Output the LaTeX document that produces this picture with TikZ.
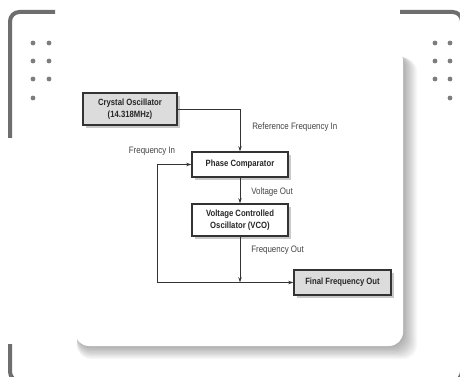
\documentclass[tikz,border=0pt]{standalone}
\usepackage{fontspec}
\setmainfont{Liberation Sans}[FakeStretch=0.85]
\usepackage{xcolor}
\usetikzlibrary{arrows.meta,shadows}

\definecolor{framegray}{HTML}{6E6E6E}
\definecolor{boxgray}{HTML}{DCDCDC}
\definecolor{wiregray}{HTML}{333333}
\definecolor{labelgray}{HTML}{444444}

\begin{document}
\begin{tikzpicture}[x=0.75pt, y=-0.75pt,
    bracket/.style={draw=framegray, line width=3pt, rounded corners=7pt},
    dot/.style={fill=framegray!90},
    block/.style={draw=wiregray, line width=0.8pt, fill=white, align=center,
      text=black!85, font=\bfseries\fontsize{6.8}{8.5}\selectfont,
      drop shadow={shadow xshift=2pt, shadow yshift=-2pt, opacity=0.35, fill=black!60}},
    greyblock/.style={block, fill=boxgray},
    lbl/.style={text=labelgray, font=\fontsize{7}{8.5}\selectfont, inner sep=0pt},
    wire/.style={draw=wiregray, line width=0.7pt, -{Stealth[length=4pt,width=2.6pt]}}]
        \useasboundingbox (0,0) rectangle (460,377);
        % Frame
        \draw[bracket] (10,138) |- (55,12);
        \draw[bracket] (400,12) -| (462,40);
        \draw[bracket] (10,344) |- (60,381);
        \draw[bracket] (462,350) |- (420,381);
        % Dots
        \foreach \y in {43,61,79} {
          \fill[dot] (33,\y) circle (2.4);
          \fill[dot] (49,\y) circle (2.4);
          \fill[dot] (435,\y) circle (2.4);
          \fill[dot] (450,\y) circle (2.4);
        }
        \fill[dot] (33,98) circle (2.4);
        \fill[dot] (450,98) circle (2.4);
        % Card shadow
        \foreach \s in {1,...,10}
          \fill[black, opacity=0.035, rounded corners=10.5pt]
            (77,52+\s*0.6) rectangle (403+\s*1.4,346+\s*1.3);
        % Card
        \fill[white, rounded corners=10.5pt] (75,47) rectangle (403,346);
        % Blocks
        \node[greyblock, minimum width=70.5pt, minimum height=24pt] (crystal)
          at (130,109) {Crystal Oscillator\\(14.318MHz)};
        \node[block, minimum width=72pt, minimum height=18.75pt] (phase)
          at (240,164.5) {Phase Comparator};
        \node[block, minimum width=72pt, minimum height=24pt] (vco)
          at (240,220) {Voltage Controlled\\Oscillator (VCO)};
        \node[greyblock, minimum width=72.75pt, minimum height=18.75pt] (final)
          at (342.5,282.5) {Final Frequency Out};
        % Connectors
        \coordinate (junc) at (240,282.5);
        \coordinate (loop) at (157,282.5);
        \draw[wire] (crystal.east) -| (phase.north);
        \draw[wire] (phase.south) -- (vco.north);
        \draw[wire] (vco.south) -- (junc);
        \draw[wire] (loop) -- (final.west);
        \draw[wire] (loop) |- (phase.west);
        % Labels
        \node[lbl, anchor=west] (reflbl) at (252,127) {Reference Frequency In};
        \node[lbl, anchor=west] (voltlbl) at (251,192) {Voltage Out};
        \node[lbl, anchor=west] (freqoutlbl) at (251,250) {Frequency Out};
        \node[lbl] (freqinlbl) at (152,151) {Frequency In};
      \end{tikzpicture}
\end{document}
